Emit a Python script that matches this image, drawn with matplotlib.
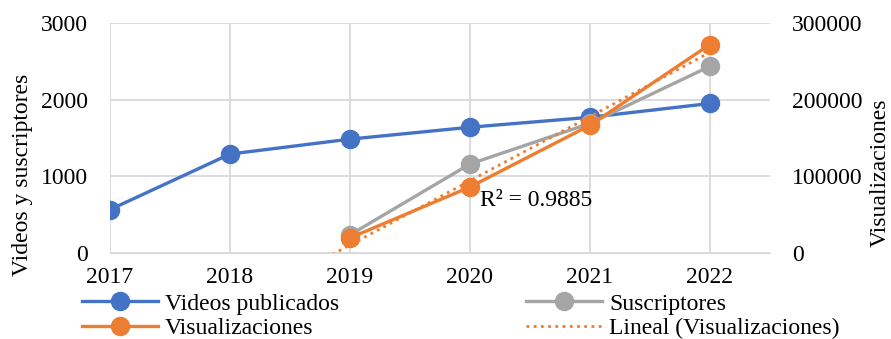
import numpy as np
import matplotlib.pyplot as plt

plt.rcParams['font.family'] = ['Liberation Serif', 'DejaVu Serif']

years = [2017, 2018, 2019, 2020, 2021, 2022]
videos = [565, 1290, 1485, 1640, 1770, 1950]
sub_years = [2019, 2020, 2021, 2022]
suscriptores = [235, 1160, 1690, 2435]
visualizaciones = [19500, 86000, 166500, 272000]

blue = '#4472C4'
orange = '#ED7D31'
gray = '#A5A5A5'
grid_c = '#D9D9D9'

fig = plt.figure(figsize=(8.91, 3.39), dpi=100)
ax = fig.add_axes([0.1235, 0.254, 0.7405, 0.678])
ax2 = ax.twinx()

l1, = ax.plot(years, videos, color=blue, lw=2.4, marker='o', ms=13, label='Videos publicados')
l2, = ax.plot(sub_years, suscriptores, color=gray, lw=2.4, marker='o', ms=13, label='Suscriptores')
l3, = ax2.plot(sub_years, visualizaciones, color=orange, lw=2.4, marker='o', ms=13, label='Visualizaciones')

# linea de tendencia lineal
m, b = np.polyfit(sub_years, visualizaciones, 1)
tx = np.linspace(2018.8, 2022, 50)
l4, = ax2.plot(tx, m * tx + b, color=orange, lw=2, ls=(0, (1, 1.6)), label='Lineal (Visualizaciones)')
ax2.text(2020.08, 68000, 'R² = 0.9885', fontsize=17, va='center', ha='left')

ax.set_xlim(2017, 2022.5)
ax.set_ylim(0, 3000)
ax2.set_ylim(0, 300000)
ax.set_yticks([0, 1000, 2000, 3000])
ax2.set_yticks([0, 100000, 200000, 300000])
ax.set_xticks(years)
ax.grid(True, color=grid_c, lw=1.3)
ax.set_axisbelow(True)
for a in (ax, ax2):
    for s in a.spines.values():
        s.set_visible(False)
    a.tick_params(length=0, labelsize=17, pad=16)
ax.spines['bottom'].set_visible(True)
ax.spines['bottom'].set_color(grid_c)
ax.tick_params(axis='x', pad=10)
ax.set_ylabel('Videos y suscriptores', fontsize=17)
ax2.set_ylabel('Visualizaciones', fontsize=17)
ax.yaxis.set_label_coords(-0.117, 0.34)
ax2.yaxis.set_label_coords(1.152, 0.35)

fig.legend(handles=[l1, l3, l2, l4], ncol=2, loc='upper left',
           bbox_to_anchor=(0.092, 0.135), frameon=False, fontsize=17,
           handlelength=3.2, handletextpad=0.3, columnspacing=7.95,
           labelspacing=0.12, borderpad=0, borderaxespad=0)

fig.savefig('out.png', dpi=100)
